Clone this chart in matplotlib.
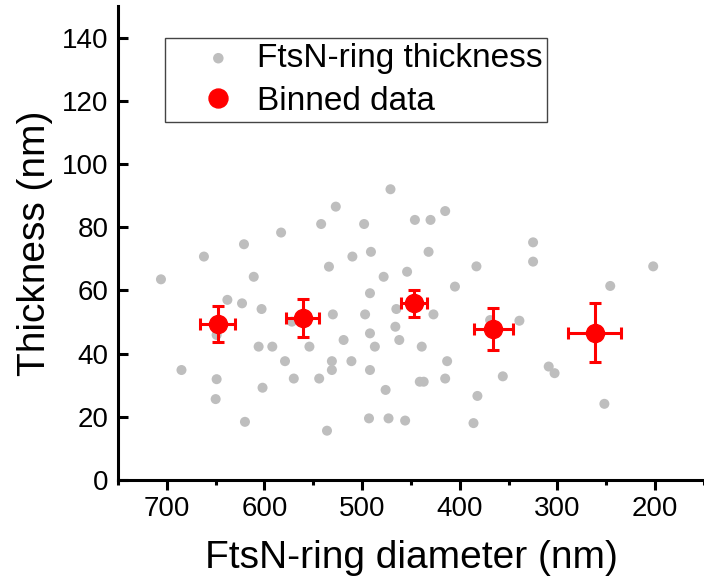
import matplotlib
matplotlib.use("Agg")
import matplotlib.pyplot as plt
from matplotlib.ticker import MultipleLocator

plt.rcParams['font.family'] = ['Liberation Sans', 'DejaVu Sans']

# individual rings: diameter (nm) and thickness (nm)
diameter = [706, 662, 621, 583, 542, 527, 498, 471, 510, 491, 534, 611, 478, 454,
            638, 623, 603, 492, 530, 497, 465, 466, 492, 462, 519, 487, 606, 592,
            554, 579, 531, 511, 531, 492, 685, 649, 570, 544, 602, 650, 476, 620,
            536, 493, 473, 456, 446, 430, 415, 325, 325, 432, 383, 202, 405, 246,
            427, 339, 369, 439, 413, 441, 437, 415, 356, 309, 303, 382, 252, 386,
            649, 572]
thickness = [63.5, 70.7, 74.6, 78.3, 81.0, 86.5, 81.0, 92.0, 70.7, 72.2, 67.5, 64.3,
             64.3, 65.9, 57.0, 55.9, 54.1, 59.1, 52.4, 52.4, 54.1, 48.5, 46.4, 44.3,
             44.3, 42.2, 42.2, 42.2, 42.2, 37.6, 37.6, 37.6, 34.8, 34.8, 34.8, 31.9,
             32.1, 32.1, 29.2, 25.6, 28.5, 18.4, 15.6, 19.5, 19.5, 18.8, 82.3, 82.3,
             85.1, 75.2, 69.1, 72.2, 67.6, 67.6, 61.2, 61.4, 52.4, 50.4, 50.6, 42.2,
             37.6, 31.1, 31.1, 32.1, 32.8, 35.9, 33.8, 26.6, 24.1, 18.0, 45.9, 50.1]

# binned means with errors
bin_x = [648, 561, 447, 366, 262]
bin_xerr = [18, 17, 13, 20, 27]
bin_y = [49.3, 51.2, 55.9, 47.7, 46.6]
bin_yerr = [5.6, 6.0, 4.3, 6.7, 9.3]

fig = plt.figure(figsize=(7.04, 5.79), dpi=100)
ax = fig.add_axes([0.1676, 0.171, 0.8324, 0.8187])

sc = ax.scatter(diameter, thickness, s=52, color='#bebebe', edgecolors='none',
                zorder=2, label='FtsN-ring thickness')
eb = ax.errorbar(bin_x, bin_y, xerr=bin_xerr, yerr=bin_yerr, fmt='o', color='#ff0000',
                 ms=13, elinewidth=2.2, capsize=4.2, capthick=2.2, zorder=3,
                 label='Binned data')

ax.set_xlim(750, 150)
ax.set_ylim(0, 150)
ax.xaxis.set_major_locator(MultipleLocator(100))
ax.xaxis.set_minor_locator(MultipleLocator(50))
ax.yaxis.set_major_locator(MultipleLocator(20))

for side in ['top', 'right']:
    ax.spines[side].set_visible(False)
for side in ['left', 'bottom']:
    ax.spines[side].set_linewidth(2.2)

ax.tick_params(axis='x', which='major', direction='out', length=7, width=2.2,
               labelsize=20, pad=4.5)
ax.tick_params(axis='x', which='minor', direction='out', length=3.6, width=2.2)
ax.tick_params(axis='y', which='major', direction='in', length=7.5, width=2.2,
               labelsize=20, pad=7)

ax.set_xlabel('FtsN-ring diameter (nm)', fontsize=28, labelpad=13)
ax.set_ylabel('Thickness (nm)', fontsize=28, labelpad=6)

leg = ax.legend([sc, eb[0]], ['FtsN-ring thickness', 'Binned data'],
                loc='upper left', bbox_to_anchor=(0.0802, 0.9325), fontsize=24,
                scatterpoints=1, markerscale=1.05, handlelength=2.9,
                handletextpad=-0.3, borderpad=0.15, labelspacing=0.36,
                fancybox=False, framealpha=1, borderaxespad=0)
leg.get_frame().set_edgecolor('#444444')
leg.get_frame().set_linewidth(1.0)

fig.savefig('out.png', dpi=100)
